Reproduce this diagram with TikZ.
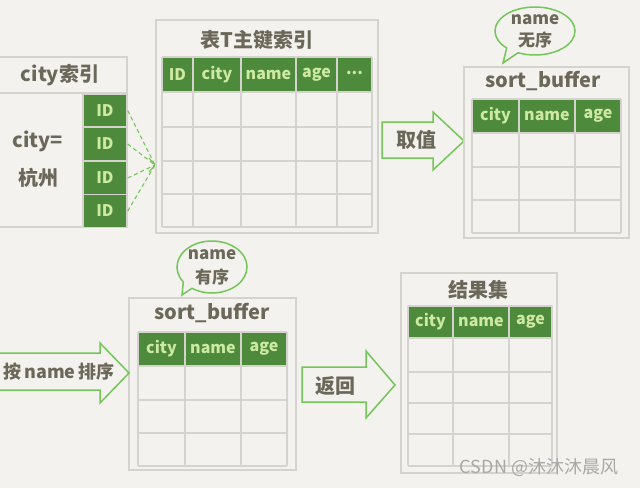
\documentclass[tikz,border=0pt]{standalone}
\usepackage{fontspec}
\setmainfont{Noto Sans CJK SC}
\usetikzlibrary{calc}
\definecolor{bg}{HTML}{F3F2EE}
\definecolor{boxgray}{HTML}{D4D3CE}
\definecolor{hgreen}{HTML}{4E8A3C}
\definecolor{htext}{HTML}{CDE9A2}
\definecolor{ink}{HTML}{6C6859}
\definecolor{agreen}{HTML}{74C65A}
\definecolor{wm}{HTML}{A8A8A8}
\begin{document}
\begin{tikzpicture}[x=1pt,y=-1pt,
  boxline/.style={draw=boxgray,line width=1.6pt},
  gridline/.style={draw=boxgray,line width=1.4pt},
  hfill/.style={fill=hgreen},
  htxt/.style={text=htext,font=\fontsize{16}{16}\selectfont\bfseries,inner sep=0pt},
  title/.style={text=ink,font=\fontsize{20}{20}\selectfont\bfseries,inner sep=0pt},
  lbl/.style={text=ink,font=\fontsize{20}{22}\selectfont\bfseries,inner sep=0pt,align=center},
  idcell/.style={rectangle,fill=hgreen,draw=boxgray,line width=1.4pt,text=htext,
     font=\fontsize{16}{16}\selectfont\bfseries,inner sep=0pt,minimum width=44pt,minimum height=33pt},
  dasharrow/.style={draw=agreen,line width=1.1pt,dashed,dash pattern=on 4pt off 3pt},
  blockarrow/.style={draw=agreen,line width=1.5pt,line join=miter},
  bubble/.style={draw=agreen,line width=1.5pt,fill=bg},
  btxt/.style={text=ink,font=\fontsize{17}{17}\selectfont\bfseries,inner sep=0pt}
]
\fill[bg] (0,0) rectangle (640,488);
\useasboundingbox (0,0) rectangle (640,488);

% ---------- city index ----------
\draw[boxline] (0,57) -- (127,57) -- (127,227) -- (0,227);
\draw[boxline] (0,93) -- (127,93);
\node[title] (idxtitle) at (60,75) {city索引};
\node[lbl] (cityeq) at (38,141) {city=};
\node[lbl] (hz) at (38,178) {杭州};
\node[idcell] (id1) at (105,110.5) {ID};
\node[idcell] (id2) at (105,144) {ID};
\node[idcell] (id3) at (105,178) {ID};
\node[idcell] (id4) at (105,211) {ID};
\coordinate (conv) at (155,165);
\foreach \n in {id1,id2,id3,id4} \draw[dasharrow] (\n.east) -- (conv);
\draw[draw=agreen,line width=1.1pt] ($(conv)+(-6,-7)$) -- (conv) -- ($(conv)+(-6,7)$);

% ---------- table T primary index ----------
\draw[boxline] (156,20) rectangle (378,233);
\node[title] (ttitle) at (257,40) {表T主键索引};
\fill[hfill] (162,57) rectangle (372,92);
\foreach \x in {162,193,241,296,337,372} \draw[gridline] (\x,57) -- (\x,227);
\foreach \y in {57,92,127,161,194,227} \draw[gridline] (162,\y) -- (372,\y);
\node[htxt] (th1) at (177.5,75) {ID};
\node[htxt] (th2) at (217,75) {city};
\node[htxt] (th3) at (268.5,75) {name};
\node[htxt] (th4) at (316.5,75) {age};
\node[htxt] (th5) at (354.5,73) {...};

% ---------- arrow 取值 ----------
\draw[blockarrow] (382,122) -- (433,122) -- (433,112) -- (464,141) -- (433,170) -- (433,158) -- (382,158) -- cycle;
\node[lbl] (qz) at (416,140) {取值};

% ---------- sort_buffer (top right) ----------
\draw[boxline] (464,67) rectangle (629,238);
\node[title] (sb1title) at (543,81) {sort\_buffer};
\fill[hfill] (472,99) rectangle (621,133);
\foreach \x in {472,519,575,621} \draw[gridline] (\x,99) -- (\x,233);
\foreach \y in {99,133,167,200,233} \draw[gridline] (472,\y) -- (621,\y);
\node[htxt] (s1h1) at (495.5,116) {city};
\node[htxt] (s1h2) at (547,116) {name};
\node[htxt] (s1h3) at (598,116) {age};
% bubble
\draw[bubble] ($(535,31)+(135:40 and 24)$) arc[start angle=135,end angle=475,x radius=40,y radius=24] -- (503,63) -- cycle;
\node[btxt] (b1a) at (535,20) {name};
\node[btxt] (b1b) at (535,40) {无序};

% ---------- sort_buffer (bottom) ----------
\draw[boxline] (129,298) rectangle (296,470);
\node[title] (sb2title) at (212,313) {sort\_buffer};
\fill[hfill] (138,332) rectangle (287,366);
\foreach \x in {138,185,241,287} \draw[gridline] (\x,332) -- (\x,466);
\foreach \y in {332,366,400,433,466} \draw[gridline] (138,\y) -- (287,\y);
\node[htxt] (s2h1) at (161.5,349) {city};
\node[htxt] (s2h2) at (213,349) {name};
\node[htxt] (s2h3) at (264,349) {age};
% bubble
\draw[bubble] ($(212,267)+(145:35 and 26)$) arc[start angle=145,end angle=485,x radius=35,y radius=26] -- (182,295) -- cycle;
\node[btxt] (b2a) at (212,255) {name};
\node[btxt] (b2b) at (212,277) {有序};

% ---------- arrow 按name排序 ----------
\draw[blockarrow] (0,353) -- (100,353) -- (100,343) -- (129,373) -- (100,403) -- (100,390) -- (0,390);
\node[lbl,font=\fontsize{18}{18}\selectfont\bfseries] (sortlbl) at (59,372) {按\,name\,排序};

% ---------- arrow 返回 ----------
\draw[blockarrow] (302,367) -- (366,367) -- (366,351) -- (395,385) -- (366,418) -- (366,402) -- (302,402) -- cycle;
\node[lbl] (fh) at (335,386) {返回};

% ---------- result set ----------
\draw[boxline] (401,273) rectangle (557,473);
\node[title] (rtitle) at (478,290) {结果集};
\fill[hfill] (408,306) rectangle (552,338);
\foreach \x in {408,453,509,552} \draw[gridline] (\x,306) -- (\x,466);
\foreach \y in {306,338,372,403,434,466} \draw[gridline] (408,\y) -- (552,\y);
\node[htxt] (rh1) at (430.5,322) {city};
\node[htxt] (rh2) at (481,322) {name};
\node[htxt] (rh3) at (530.5,322) {age};

% watermark
\node[text=wm,font=\fontsize{18}{18}\selectfont,inner sep=0pt] (wmk) at (539,468) {CSDN @沐沐沐晨风};
\end{tikzpicture}
\end{document}
